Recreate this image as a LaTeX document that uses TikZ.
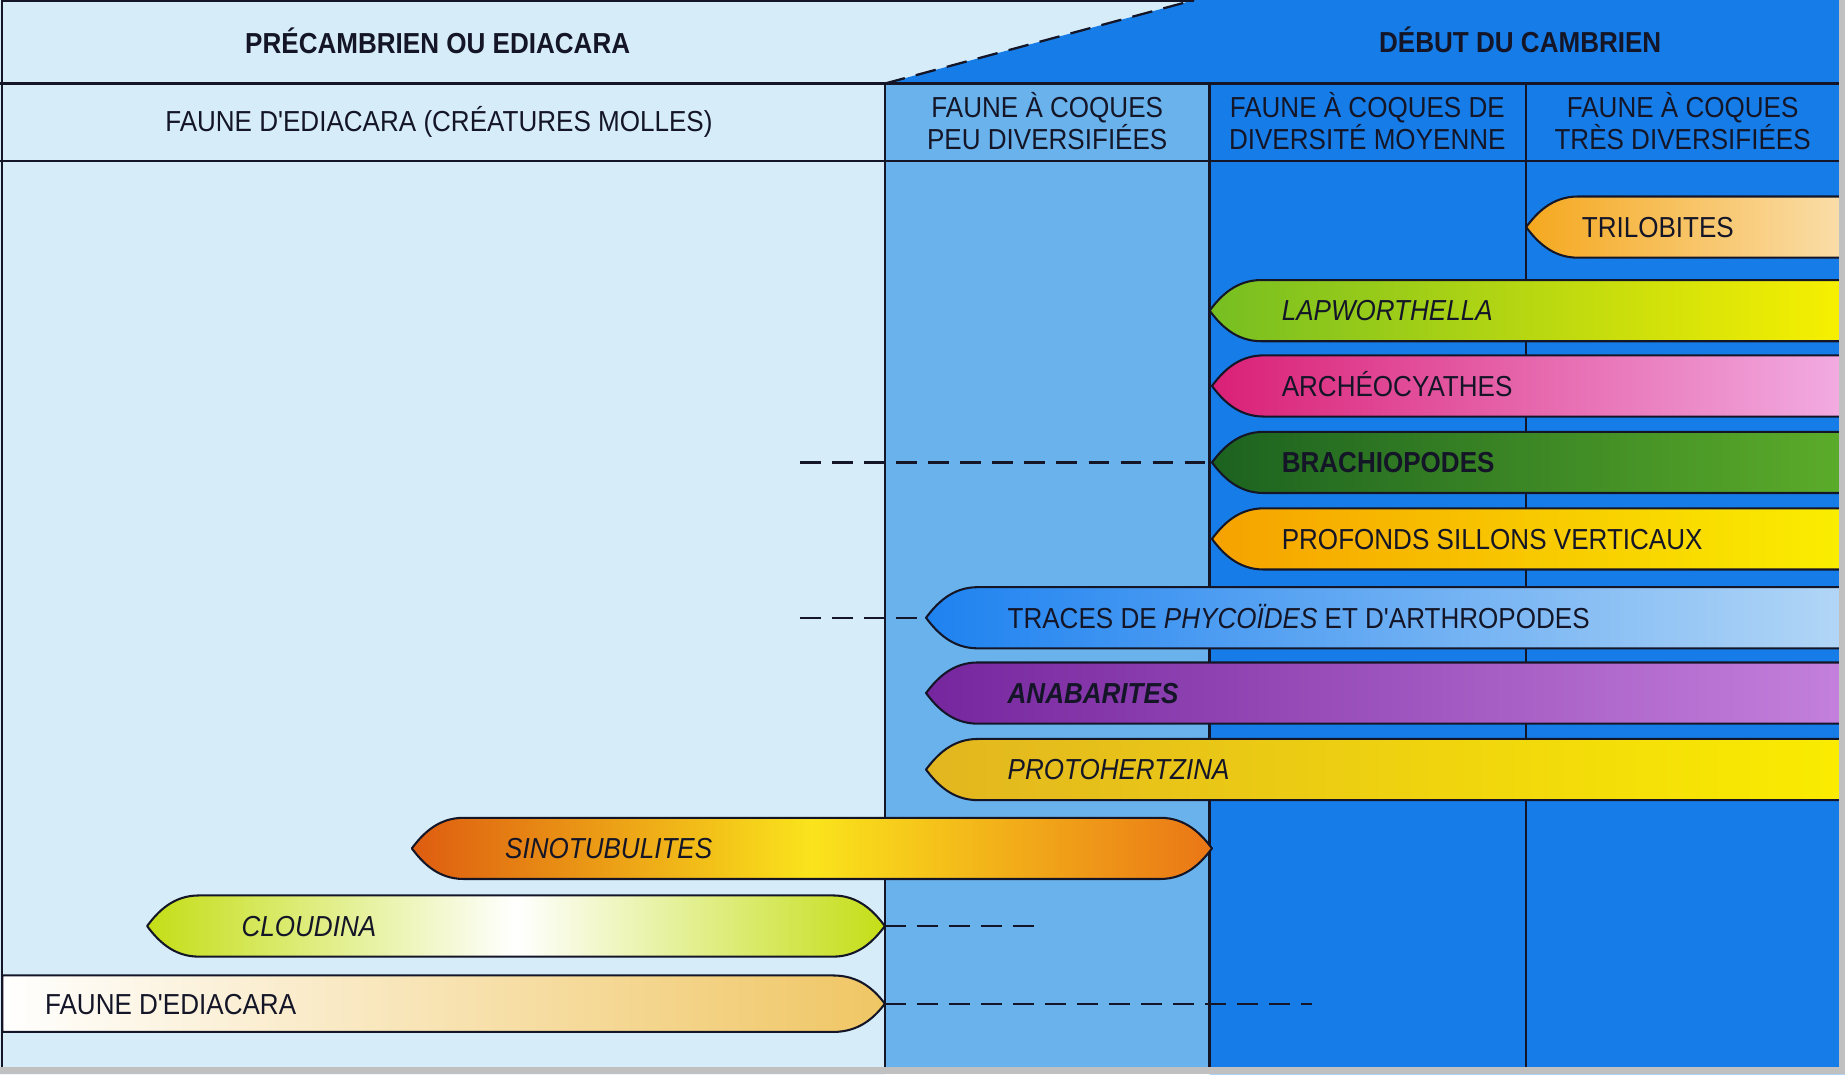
\documentclass[tikz,border=0pt]{standalone}
\usepackage{xcolor}
\usepackage{fontspec}
\setmainfont{Liberation Sans}[FakeStretch=0.9, Ligatures=TeXOff]
\usepackage{tikz}
\usetikzlibrary{positioning}

\definecolor{paleblue}{RGB}{214,236,248}
\definecolor{midblue}{RGB}{105,178,236}
\definecolor{deepblue}{RGB}{22,125,232}
\definecolor{edgegray}{RGB}{192,192,192}
\definecolor{inkline}{RGB}{20,22,40}
\definecolor{triloA}{RGB}{245,168,30}
\definecolor{triloB}{RGB}{250,222,170}
\definecolor{lapA}{RGB}{118,190,34}
\definecolor{lapB}{RGB}{248,240,0}
\definecolor{archA}{RGB}{218,32,118}
\definecolor{archB}{RGB}{242,172,226}
\definecolor{brachA}{RGB}{28,98,32}
\definecolor{brachB}{RGB}{92,172,42}
\definecolor{sillA}{RGB}{246,162,0}
\definecolor{sillB}{RGB}{250,238,0}
\definecolor{tracA}{RGB}{30,130,240}
\definecolor{tracB}{RGB}{178,214,246}
\definecolor{anaA}{RGB}{118,38,158}
\definecolor{anaB}{RGB}{196,128,220}
\definecolor{protA}{RGB}{226,182,32}
\definecolor{protB}{RGB}{250,236,0}
\definecolor{sinoA}{RGB}{222,92,16}
\definecolor{sinoM}{RGB}{250,228,28}
\definecolor{sinoB}{RGB}{234,118,22}
\definecolor{cloudA}{RGB}{196,222,22}
\definecolor{ediacB}{RGB}{240,198,100}

\tikzstyle{gridline} = [line width=1.1pt, draw=inkline]
\tikzstyle{barline} = [line width=1pt, draw=inkline, line join=round]
\tikzstyle{dashline} = [line width=1.1pt, draw=inkline, dash pattern=on 10pt off 5.5pt]
\tikzstyle{headtext} = [font=\fontsize{14}{15.5}\selectfont, align=center, inner sep=0pt, text=inkline]
\tikzstyle{bartext} = [font=\fontsize{14}{15.5}\selectfont, anchor=west, inner sep=0pt, text height=10pt, text depth=0pt, text=inkline]

% bar running off the right edge: name, tip x, centre y, left colour, right colour
\newcommand{\openbar}[5]{%
  \coordinate (#1) at (#2,#3);
  \draw[barline, left color=#4, right color=#5] (1568,{#3-26}) -- ({#2+44},{#3-26})
    .. controls ({#2+22},{#3-26}) and ({#2+9},{#3-12}) .. (#1)
    .. controls ({#2+9},{#3+12}) and ({#2+22},{#3+26}) .. ({#2+44},{#3+26})
    -- (1568,{#3+26}) -- cycle;
}
% bar pointed at both ends: name, left tip x, right tip x, centre y, shading
\newcommand{\closedbar}[5]{%
  \coordinate (#1) at (#3,#4);
  \draw[barline, #5] (#2,#4) .. controls ({#2+9},{#4-12}) and ({#2+22},{#4-26}) .. ({#2+44},{#4-26})
    -- ({#3-44},{#4-26}) .. controls ({#3-22},{#4-26}) and ({#3-9},{#4-12}) .. (#1)
    .. controls ({#3-9},{#4+12}) and ({#3-22},{#4+26}) .. ({#3-44},{#4+26})
    -- ({#2+44},{#4+26}) .. controls ({#2+22},{#4+26}) and ({#2+9},{#4+12}) .. cycle;
}

\begin{document}
\begin{tikzpicture}[x=0.02cm, y=-0.02cm]
    \useasboundingbox (0,0) rectangle (1568,913);

    % Background
    \fill[paleblue] (0,0) -- (1015,0) -- (752,71) -- (752,913) -- (0,913) -- cycle;
    \fill[deepblue] (1015,0) -- (1568,0) -- (1568,913) -- (1028,913) -- (1028,71) -- (752,71) -- cycle;
    \fill[midblue] (752,71) rectangle (1028,913);

    % Grid
    \draw[gridline] (1.5,913) -- (1.5,1) -- (1015,1);
    \draw[gridline] (0,71) -- (1568,71);
    \draw[gridline] (0,137) -- (1568,137);
    \draw[gridline] (752,71) -- (752,913);
    \draw[gridline] (1028,71) -- (1028,913);
    \draw[gridline] (1297,71) -- (1297,913);
    \draw[dashline] (752,71) -- (1015,0);

    % Headers
    \node[headtext, font=\fontsize{14}{15.5}\selectfont\bfseries] (precam) at (372,35) {PRÉCAMBRIEN OU EDIACARA};
    \node[headtext, font=\fontsize{14}{15.5}\selectfont\bfseries] (cambrien) at (1292,34) {DÉBUT DU CAMBRIEN};
    \node[headtext] (molles) at (373,104) {FAUNE D'EDIACARA (CRÉATURES MOLLES)};
    \node[headtext] (peu) at (890,103) {FAUNE À COQUES\\PEU DIVERSIFIÉES};
    \node[headtext] (moyenne) at (1162,103) {FAUNE À COQUES DE\\DIVERSITÉ MOYENNE};
    \node[headtext] (tres) at (1430,103) {FAUNE À COQUES\\TRÈS DIVERSIFIÉES};

    % Bars
    \openbar{trilo}{1297}{193}{triloA}{triloB}
    \openbar{lapwor}{1028}{264}{lapA}{lapB}
    \openbar{archeo}{1030}{328}{archA}{archB}
    \openbar{brachio}{1030}{393}{brachA}{brachB}
    \openbar{sillons}{1030}{458}{sillA}{sillB}
    \openbar{traces}{787}{525}{tracA}{tracB}
    \openbar{anabar}{787}{589}{anaA}{anaB}
    \openbar{proto}{787}{654}{protA}{protB}
    \closedbar{sino}{350}{1030}{721}{left color=sinoA, right color=sinoB, middle color=sinoM}
    \closedbar{cloud}{125}{752}{787}{left color=cloudA, right color=cloudA, middle color=white}
    \coordinate (ediac) at (752,853);
    \draw[barline, left color=white, right color=ediacB] (2,829) -- (708,829)
        .. controls (730,829) and (743,841) .. (ediac)
        .. controls (743,865) and (730,877) .. (708,877) -- (2,877) -- cycle;

    % Bar labels
    \node[bartext] (trilobites) at (1344,193) {TRILOBITES};
    \node[bartext] (lapworthella) at (1089,264) {\itshape LAPWORTHELLA};
    \node[bartext] (archeocyathes) at (1089,328) {ARCHÉOCYATHES};
    \node[bartext] (brachiopodes) at (1089,393) {\bfseries BRACHIOPODES};
    \node[bartext] (profonds) at (1089,458) {PROFONDS SILLONS VERTICAUX};
    \node[bartext] (phycoides) at (856,525) {TRACES DE \textit{PHYCOÏDES} ET D'ARTHROPODES};
    \node[bartext] (anabarites) at (856,589) {\bfseries\itshape ANABARITES};
    \node[bartext] (protohertzina) at (856,654) {\itshape PROTOHERTZINA};
    \node[bartext] (sinotubulites) at (429,721) {\itshape SINOTUBULITES};
    \node[bartext] (cloudina) at (205,787) {\itshape CLOUDINA};
    \node[bartext] (ediacara) at (38,853) {FAUNE D'EDIACARA};

    % Dashed extensions
    \coordinate (brachio-end) at (680,393);
    \coordinate (traces-end) at (680,525);
    \coordinate (cloud-end) at (884,787);
    \coordinate (ediac-end) at (1115,853);
    \draw[dashline] (brachio-end) -- (brachio);
    \draw[dashline] (traces-end) -- (traces);
    \draw[dashline] (cloud) -- (cloud-end);
    \draw[dashline] (ediac) -- (ediac-end);

    % Scan border
    \fill[edgegray] (1563,0) rectangle (1568,913);
    \fill[edgegray] (0,907) rectangle (1568,913);
\end{tikzpicture}
\end{document}
